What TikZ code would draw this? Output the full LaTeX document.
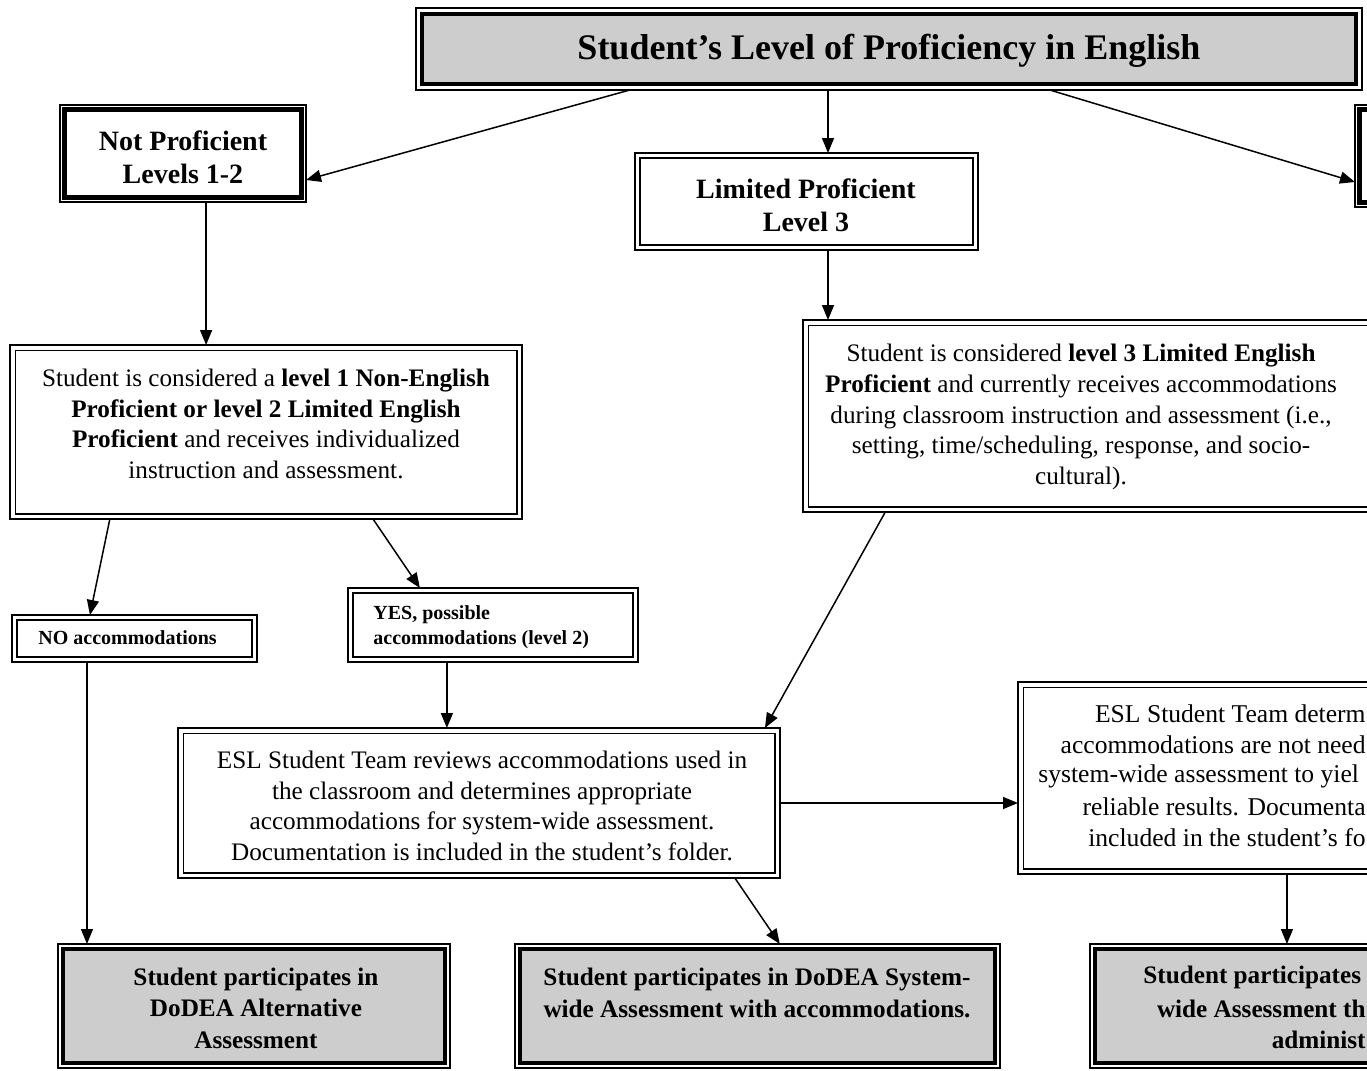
\documentclass[tikz,border=0pt]{standalone}
\usepackage{fontspec}
\setmainfont{Liberation Serif}
\usetikzlibrary{arrows.meta,calc}
\definecolor{boxgray}{RGB}{205,205,205}
\tikzset{
  arr/.style={line width=0.75pt, -{Triangle[length=7.5pt,width=6pt]}},
  frame/.style={draw, inner sep=0pt, outer sep=0pt},
  thinout/.style={frame, line width=0.6pt},
  thickout/.style={frame, line width=1.3pt},
  bodytxt/.style={font=\fontsize{12.6}{15.4}\selectfont, align=center, inner sep=0pt},
  headtxt/.style={font=\fontsize{14}{16.5}\selectfont\bfseries, align=center, inner sep=0pt},
  titletxt/.style={font=\fontsize{18}{21}\selectfont\bfseries, inner sep=0pt},
  smalltxt/.style={font=\fontsize{10}{12.5}\selectfont\bfseries, align=left, inner sep=0pt},
  bottxt/.style={font=\fontsize{12.6}{15.8}\selectfont\bfseries, align=center, inner sep=0pt},
  fragtxt/.style={font=\fontsize{12.8}{15.4}\selectfont, inner sep=0pt},
  fragbold/.style={font=\fontsize{12.6}{15.8}\selectfont\bfseries, inner sep=0pt},
}
% name, x1, y1, x2, y2, style
\newcommand\mybox[6]{%
  \node[#6, minimum width={(#4-#2)*0.5pt}, minimum height={(#5-#3)*0.5pt}] (#1) at ({(#2+#4)/2},{(#3+#5)/2}) {};}
% name, inset, line width, fill
\newcommand\innerframe[4]{%
  \draw[line width=#3, fill=#4] ([xshift=#2,yshift=-#2]#1.north west) rectangle ([xshift=-#2,yshift=#2]#1.south east);}
\begin{document}
\begin{tikzpicture}[x=0.5pt,y=-0.5pt]
\useasboundingbox (0,0) rectangle (1367,1071);
\clip (0,0) rectangle (1367,1071);

% ---------- boxes ----------
\mybox{title}{416}{8}{1362}{90}{thinout}
\innerframe{title}{3pt}{2.4pt}{boxgray}

\mybox{notprof}{60}{105}{306}{202}{thinout}
\innerframe{notprof}{2.1pt}{2.4pt}{white}

\mybox{rightbox}{1355}{105}{1600}{207}{thinout}
\innerframe{rightbox}{2.1pt}{2.4pt}{white}

\mybox{limited}{635}{153}{978}{250}{thickout}
\innerframe{limited}{2.6pt}{0.8pt}{white}

\mybox{levelone}{10}{345}{522}{519}{thickout}
\innerframe{levelone}{2.6pt}{0.7pt}{white}

\mybox{levelthree}{803}{320}{1420}{512}{thickout}
\innerframe{levelthree}{2.6pt}{0.7pt}{white}

\mybox{noacc}{12}{615}{257}{662}{thickout}
\innerframe{noacc}{2.6pt}{0.8pt}{white}

\mybox{yesacc}{348}{588}{638}{662}{thickout}
\innerframe{yesacc}{2.6pt}{0.8pt}{white}

\mybox{eslmid}{178}{728}{780}{878}{thickout}
\innerframe{eslmid}{2.6pt}{0.7pt}{white}

\mybox{eslright}{1018}{682}{1420}{874}{thickout}
\innerframe{eslright}{2.6pt}{0.7pt}{white}

\mybox{botL}{58}{944}{450}{1068}{thinout}
\innerframe{botL}{2.5pt}{1.6pt}{boxgray}

\mybox{botM}{515}{944}{1000}{1068}{thinout}
\innerframe{botM}{2.5pt}{1.6pt}{boxgray}

\mybox{botR}{1090}{944}{1420}{1068}{thinout}
\innerframe{botR}{2.5pt}{1.6pt}{boxgray}

% ---------- texts ----------
\node[titletxt] (ttitle) at (889,51) {Student’s Level of Proficiency in English};
\node[headtxt] (tnotprof) at (183,157) {Not Proficient\\Levels 1-2};
\node[headtxt] (tlimited) at (806,205) {Limited Proficient\\Level 3};
\node[bodytxt] (tlevelone) at (266,424) {Student is considered a \textbf{level 1 Non-English}\\
  \textbf{Proficient or level 2 Limited English}\\
  \textbf{Proficient} and receives individualized\\
  instruction and assessment.};
\node[bodytxt] (tlevelthree) at (1081,417) {Student is considered \textbf{level 3 Limited English}\\
  \textbf{Proficient} and currently receives accommodations\\
  during classroom instruction and assessment (i.e.,\\
  setting, time/scheduling, response, and socio-\\
  cultural).};
\node[smalltxt, anchor=west] (tnoacc) at (38,638) {NO accommodations};
\node[smalltxt, anchor=west] (tyesacc) at (373,627) {YES, possible\\accommodations (level 2)};
\node[bodytxt] (teslmid) at (482,806) {ESL Student Team reviews accommodations used in\\
  the classroom and determines appropriate\\
  accommodations for system-wide assessment.\\
  Documentation is included in the student’s folder.};
\node[fragtxt, anchor=east] (er1) at (1366,714) {ESL Student Team determ};
\node[fragtxt, anchor=east] (er2) at (1366,745) {accommodations are not need};
\node[fragtxt, anchor=west] (er3) at (1038,776) {system-wide assessment to yiel};
\node[fragtxt, anchor=east] (er4) at (1366,807) {reliable results. Documenta};
\node[fragtxt, anchor=east] (er5) at (1366,838) {included in the student’s fo};
\node[bottxt] (tbotL) at (256,1008) {Student participates in\\DoDEA Alternative\\Assessment};
\node[bottxt] (tbotM) at (757,993) {Student participates in DoDEA System-\\wide Assessment with accommodations.};
\node[fragbold, anchor=west] (br1) at (1143,977) {Student participates};
\node[fragbold, anchor=east] (br2) at (1366,1009) {wide Assessment th};
\node[fragbold, anchor=east] (br3) at (1366,1040) {administ};

% ---------- connectors ----------
\draw[arr] ($(title.south west)!0.226!(title.south east)$) -- ($(notprof.north east)!0.773!(notprof.south east)$);
\coordinate (cx) at ($(limited.north west)!0.5627!(limited.north east)$);
\draw[arr] (title.south -| cx) -- (cx);
\draw[arr] ($(title.south west)!0.670!(title.south east)$) -- ($(rightbox.north west)!0.755!(rightbox.south west)$);
\coordinate (c4) at ($(levelone.north west)!0.383!(levelone.north east)$);
\draw[arr] (notprof.south -| c4) -- (c4);
\draw[arr] (limited.south -| cx) -- (levelthree.north -| cx);
\draw[arr] ($(levelone.south west)!0.195!(levelone.south east)$) -- ($(noacc.north west)!0.318!(noacc.north east)$);
\draw[arr] ($(levelone.south west)!0.709!(levelone.south east)$) -- ($(yesacc.north west)!0.248!(yesacc.north east)$);
\draw[arr] ($(levelthree.south west)!0.1334!(levelthree.south east)$) -- ($(eslmid.north west)!0.975!(eslmid.north east)$);
\coordinate (c9) at ($(noacc.south west)!0.306!(noacc.south east)$);
\draw[arr] (c9) -- (c9 |- botL.north);
\coordinate (c10) at ($(yesacc.south west)!0.341!(yesacc.south east)$);
\draw[arr] (c10) -- (c10 |- eslmid.north);
\coordinate (c11) at ($(eslmid.north east)!0.5!(eslmid.south east)$);
\draw[arr] (c11) -- (c11 -| eslright.west);
\draw[arr] ($(eslmid.south west)!0.925!(eslmid.south east)$) -- ($(botM.north west)!0.546!(botM.north east)$);
\coordinate (c13) at ($(eslright.south west)!0.669!(eslright.south east)$);
\draw[arr] (c13) -- (c13 |- botR.north);
\end{tikzpicture}
\end{document}
